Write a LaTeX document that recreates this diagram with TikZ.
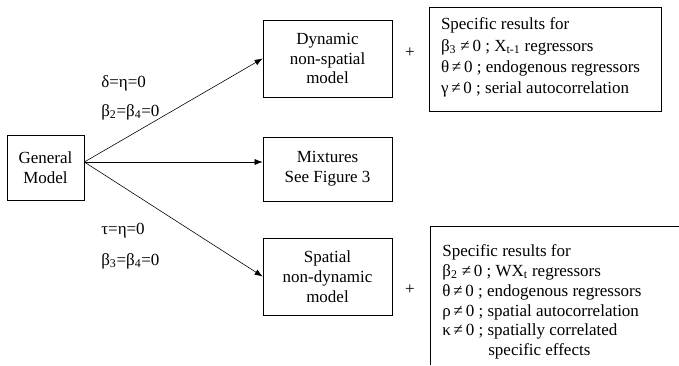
\documentclass[tikz,border=0pt]{standalone}
\usepackage{fontspec}
\setmainfont{Liberation Serif}
\usetikzlibrary{arrows.meta}

\begin{document}
\begin{tikzpicture}[x=0.03cm,y=-0.03cm,line width=.6pt,
  font=\fontsize{14.5}{17}\selectfont,
  box/.style={draw,align=center,minimum width=3.87cm,minimum height=2.31cm,inner sep=2pt},
  lbl/.style={anchor=west,inner sep=0pt},
  arr/.style={line width=.5pt,-{Latex[length=2.4mm,width=1.8mm]}},
  res/.style={align=left,anchor=north west,inner sep=0pt}]
\useasboundingbox (0,0) rectangle (679,365);
\node[box,minimum width=2.31cm,minimum height=1.95cm] (gen) at (45.5,167.5) {General\\Model};
\node[box] (dyn) at (327.5,58.5) {Dynamic\\non-spatial\\model};
\node[box,minimum height=1.92cm] (mix) at (327.5,169) {Mixtures\\See Figure 3};
\node[box] (spa) at (327.5,276.5) {Spatial\\non-dynamic\\model};
\coordinate (src) at ([yshift=0.165cm]gen.east);
\draw[arr] (src) -- (dyn.west);
\draw[arr] (src) -- (src -| mix.west);
\draw[arr] (src) -- (spa.west);
\node[lbl] (c1) at (101,83) {δ=η=0};
\node[lbl] (c2) at (101,112) {β\textsubscript{2}=β\textsubscript{4}=0};
\node[lbl] (c3) at (101,231) {τ=η=0};
\node[lbl] (c4) at (101,261) {β\textsubscript{3}=β\textsubscript{4}=0};
\node (p1) at (410,53) {+};
\node (p2) at (410,290) {+};
\node[draw,minimum width=6.96cm,minimum height=3.12cm] (r1) at (545,59) {};
\node[res] (t1) at ([xshift=0.36cm,yshift=-0.33cm]r1.north west)
  {Specific results for\\[1pt]
   β\textsubscript{3} ≠\,0 ; X\textsubscript{t-1} regressors\\[1pt]
   θ\,≠\,0 ; endogenous regressors\\[1pt]
   γ\,≠\,0 ; serial autocorrelation};
\draw (430,365) -- (430,226) -- (679,226);
\node[res] (r2) at (442,244)
  {Specific results for\\
   β\textsubscript{2} ≠\,0 ; WX\textsubscript{t} regressors\\
   θ\,≠\,0 ; endogenous regressors\\
   ρ\,≠\,0 ; spatial autocorrelation\\
   κ\,≠\,0 ; spatially correlated\\
   \hspace*{1.38cm}specific effects};
\end{tikzpicture}
\end{document}
